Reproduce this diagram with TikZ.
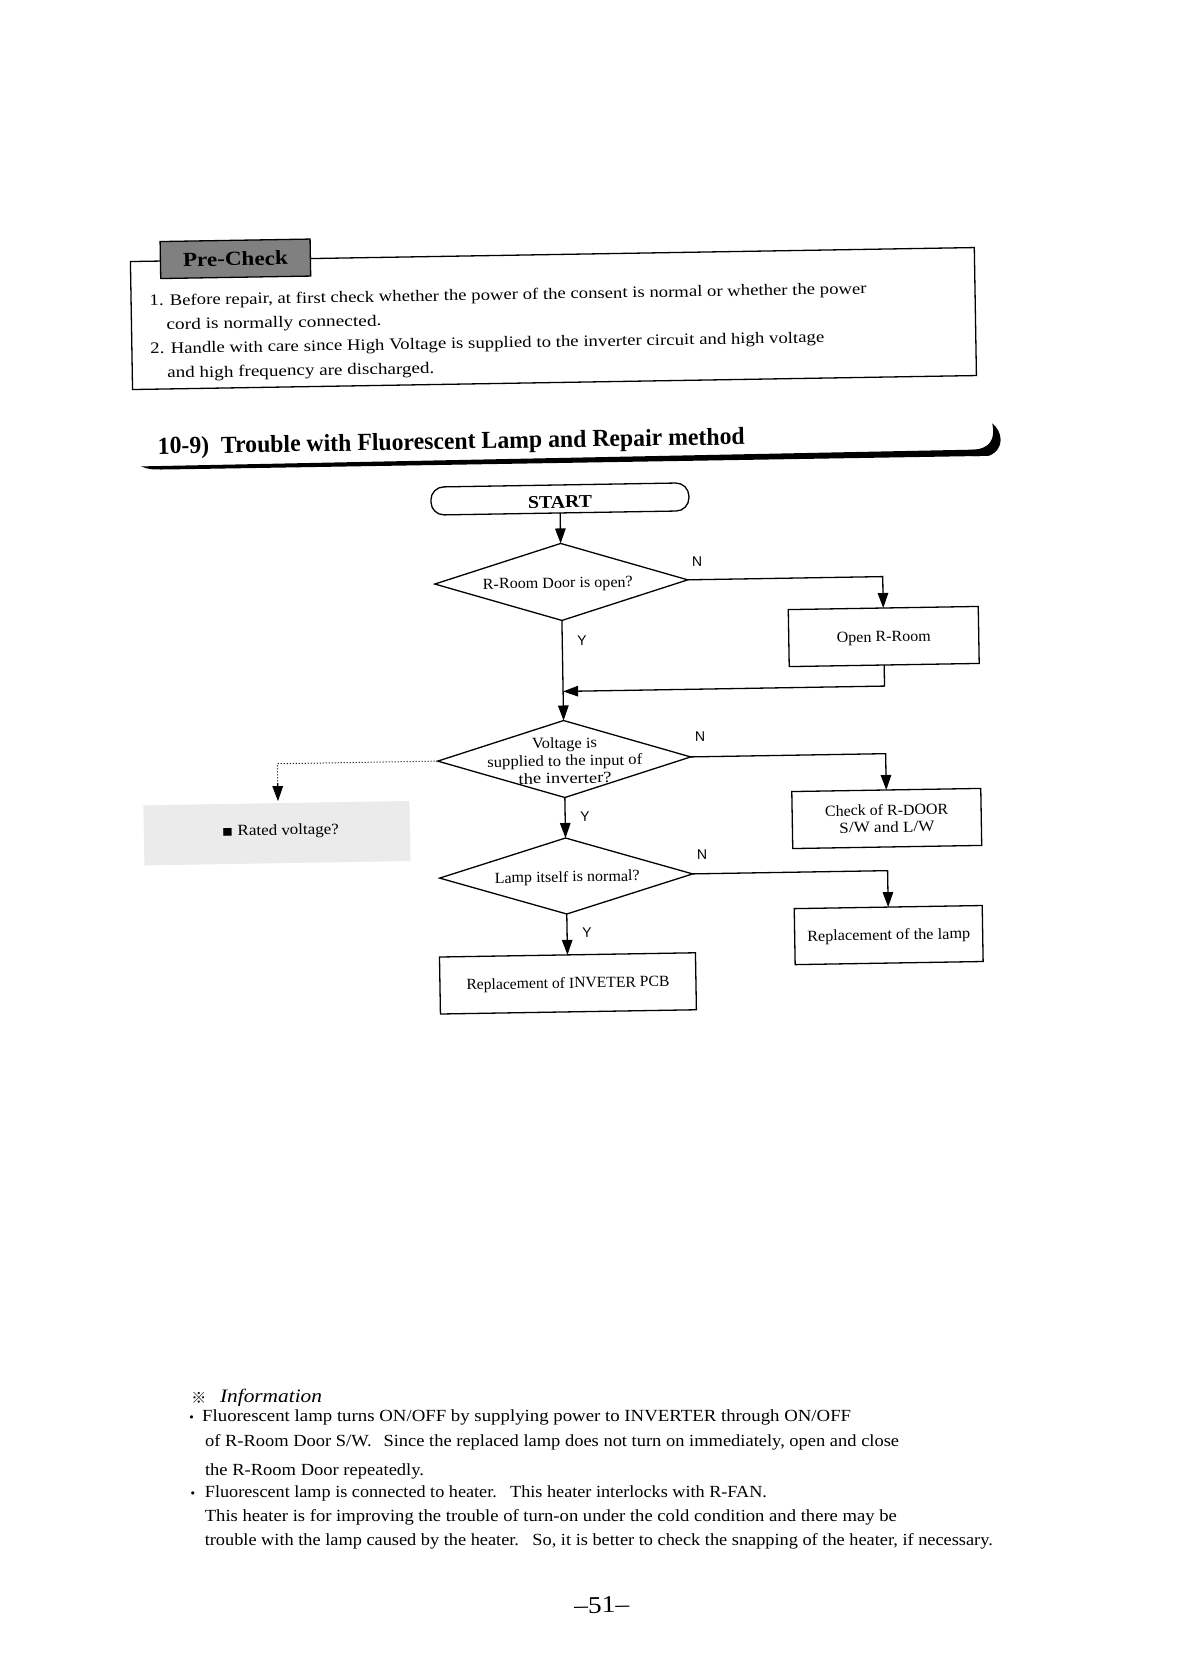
\documentclass[tikz,border=0pt]{standalone}
\usepackage{fontspec}
\setmainfont{Liberation Serif}
\newfontfamily\lsans{Liberation Sans}
\newfontfamily\djv{DejaVu Sans}
\newfontfamily\cjkf{Noto Sans CJK SC}
\usetikzlibrary{shapes.geometric,arrows.meta}
\newcommand\fw[2]{\resizebox{#1pt}{\height}{#2}}
\begin{document}
\begin{tikzpicture}[x=1pt,y=-1pt,line width=1.3pt,
  every node/.style={inner sep=0pt,outer sep=0pt},
  ptxt/.style={anchor=base west,font=\fontsize{16}{18}\selectfont},
  itxt/.style={anchor=base,font=\fontsize{17}{18}\selectfont},
  ctxt/.style={anchor=base,font=\fontsize{15.5}{18}\selectfont},
  yn/.style={font=\lsans\fontsize{14}{16}\selectfont},
  bul/.style={font=\djv\fontsize{11}{12}\selectfont},
  procbox/.style={draw,minimum height=57pt,font=\fontsize{15.5}{17}\selectfont},
  decision/.style={draw,diamond,minimum width=253pt,minimum height=77pt},
  arr/.style={-{Triangle[length=15pt,width=10.5pt]}},
  dotline/.style={line width=1pt,dash pattern=on 1pt off 2pt}]
\fill[white] (0,0) rectangle (1179,1672);
\useasboundingbox (0,0) rectangle (1179,1672);
\begin{scope}[rotate around={0.95:(590,836)},transform shape]
% Pre-check frame
\draw (140,254) rectangle (984,382);
\node[draw,fill=black!50,minimum width=150pt,minimum height=37pt,
  font=\bfseries\fontsize{20}{22}\selectfont] (pcl) at (245,253) {\fw{105}{Pre-Check}};
\node[ptxt] (pc1) at (158.5,298.5) {\fw{717}{1. Before repair, at first check whether the power of the consent is normal or whether the power}};
\node[ptxt] (pc2) at (175,322.5) {\fw{215}{cord is normally connected.}};
\node[ptxt] (pc3) at (158.5,346.5) {\fw{674}{2. Handle with care since High Voltage is supplied to the inverter circuit and high voltage}};
\node[ptxt] (pc4) at (175,371) {\fw{267}{and high frequency are discharged.}};
% Heading
\node[anchor=base west,font=\bfseries\fontsize{24.5}{28}\selectfont] (head) at (164.3,447)
  {\fw{587}{10-9)\hspace{0.5em}Trouble with Fluorescent Lamp and Repair method}};
\fill (147,459) -- (990,456) -- (990,462.5) -- (172,462.5) .. controls (156,462.3) .. (147,459) -- cycle;
\fill (978,456.3) .. controls (997,455.5) and (1002,446) .. (999,430)
  .. controls (1009,438) and (1012,456) .. (995,462.5) -- (978,462.5) -- cycle;
% Flowchart shapes
\node[draw,rounded corners=13pt,minimum width=258pt,minimum height=28pt,
  text height=18pt,text depth=0pt,font=\bfseries\fontsize{18}{20}\selectfont] (start) at (565.5,498.5) {\fw{64}{START}};
\node[decision] (d1) at (565.5,581.5) {};
\node[decision] (d2) at (565.5,758.6) {};
\node[decision,minimum height=76pt] (d3) at (565.5,875.6) {};
\node[ctxt] (d1t) at (562,587.5) {\fw{150}{R-Room Door is open?}};
\node[ctxt] (d2t1) at (566,748) {\fw{65}{Voltage is}};
\node[ctxt] (d2t2) at (566,765.5) {\fw{155}{supplied to the input of}};
\node[ctxt] (d2t3) at (566,783) {\fw{93}{the inverter?}};
\node[ctxt] (d3t) at (566.5,881.6) {\fw{145}{Lamp itself is normal?}};
\node[procbox,minimum width=190pt,text height=10.4pt,text depth=0pt] (open) at (887,641.4) {\fw{94}{Open R-Room}};
\node[procbox,minimum width=189pt,align=center] (chk) at (887,823.4) {\fw{123}{Check of R-DOOR}\\\fw{95}{S/W and L/W}};
\node[procbox,minimum width=188pt,minimum height=56pt,text height=9.8pt,text depth=0pt] (lamp) at (887,940) {\fw{163}{Replacement of the lamp}};
\node[procbox,minimum width=256pt,text height=9.4pt,text depth=0pt] (pcb) at (565.5,983) {\fw{203}{Replacement of INVETER PCB}};
% Y / N labels
\node[yn] (n1) at (701.7,563.8) {N};
\node[yn] (n2) at (701.7,738.8) {N};
\node[yn] (n3) at (701.7,856.9) {N};
\node[yn] (y1) at (585.3,640) {Y};
\node[yn] (y2) at (585.3,817) {Y};
\node[yn] (y3) at (585.3,933) {Y};
% Connectors
\coordinate (j1) at (565.5,691);
\draw[arr] (start.south) -- (d1.north);
\draw[arr] (d1.east) -| (open.north);
\draw[arr] (open.south) |- (j1);
\draw[arr] (d1.south) -- (d2.north);
\draw[arr] (d2.east) -| (chk.north);
\draw[arr] (d2.south) -- (d3.north);
\draw[arr] (d3.east) -| (lamp.north);
\draw[arr] (d3.south) -- (pcb.north);
% Rated voltage side note
\fill[black!8] (144,798) rectangle (410,858);
\coordinate (rvmid) at (278.6,778);
\coordinate (rvtip) at (278.6,796);
\draw[dotline] (d2.west) -| (rvmid);
\draw[arr] (rvmid) -- (rvtip);
\node[anchor=base west,font=\fontsize{15.5}{17}\selectfont] (rv) at (222,830) {\fw{117}{{\djv ▪} Rated voltage?}};
% Page number
\node[anchor=base,font=\fontsize{24}{26}\selectfont] (pg) at (589,1613) {\fw{55}{–51–}};
\end{scope}
\begin{scope}[rotate around={0.95:(590,836)}]
% Information (text kept level, positions follow the page skew)
\node[font=\cjkf\fontsize{15}{16}\selectfont] (refm) at (189.7,1391.5) {※};
\node[anchor=base west,font=\itshape\fontsize{19}{20}\selectfont] (infoh) at (210.7,1396) {\fw{102}{Information}};
\node[itxt] (in1) at (517,1420.6) {\fw{649}{Fluorescent lamp turns ON/OFF by supplying power to INVERTER through ON/OFF}};
\node[itxt] (in2) at (542,1445.6) {\fw{694}{of R-Room Door S/W.\hspace{0.4em} Since the replaced lamp does not turn on immediately, open and close}};
\node[itxt] (in3) at (304,1470.6) {\fw{219}{the R-Room Door repeatedly.}};
\node[itxt] (in4) at (475,1495.6) {\fw{562}{Fluorescent lamp is connected to heater.\hspace{0.4em} This heater interlocks with R-FAN.}};
\node[itxt] (in5) at (539.5,1520.6) {\fw{692}{This heater is for improving the trouble of turn-on under the cold condition and there may be}};
\node[itxt] (in6) at (587,1545.6) {\fw{788}{trouble with the lamp caused by the heater.\hspace{0.4em} So, it is better to check the snapping of the heater, if necessary.}};
\node[bul,anchor=base] (bl1) at ([xshift=-10.5pt]in1.base west) {•};
\node[bul,anchor=base] (bl2) at ([xshift=-12pt]in4.base west) {•};
\end{scope}
\end{tikzpicture}
\end{document}
